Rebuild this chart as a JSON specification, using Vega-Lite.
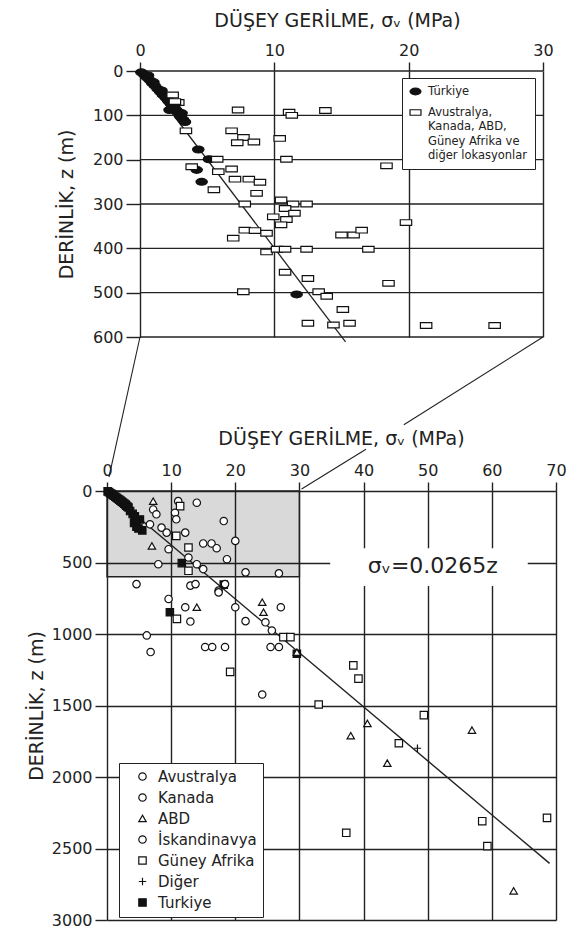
{
  "$schema": "https://vega.github.io/schema/vega-lite/v6.json",
  "padding": {"left": 27, "top": 11, "right": 5, "bottom": 5},
  "background": "white",
  "config": {
    "font": "DejaVu Sans",
    "view": {"stroke": null},
    "axis": {"labelFont": "DejaVu Sans", "labelFontSize": 16, "labelColor": "#222", "titleFont": "DejaVu Sans", "titleFontSize": 19, "titleFontWeight": "normal", "titleColor": "#222", "tickColor": "#222", "tickWidth": 1.4, "gridColor": "#222", "gridWidth": 1.4, "gridOpacity": 1, "domainColor": "#222", "labelFlush": false, "labelOverlap": false, "format": "d"},
    "style": {"guide-label": {"lineHeight": 14.5}}
  },
  "datasets": {
    "one": [{}],
    "top_h": [{"z": 0}, {"z": 100}, {"z": 200}, {"z": 300}, {"z": 400}, {"z": 500}, {"z": 600}],
    "top_fit": [{"s": 0, "z": 0}, {"s": 15.3, "z": 611}],
    "bot_fit": [{"s": 0, "z": 0}, {"s": 69, "z": 2604}],
    "conn": [{"s": 0, "z": 600, "s2": -2.31, "z2": 916}, {"s": 30, "z": 600, "s2": 19.64, "z2": 798}, {"s": 16.82, "z": 853, "s2": 12.03, "z2": 943}],
    "top": [
      {"s": 0.1, "z": 3, "g": "Türkiye"}, {"s": 0.3, "z": 8, "g": "Türkiye"}, {"s": 0.5, "z": 14, "g": "Türkiye"}, {"s": 0.6, "z": 10, "g": "Türkiye"}, {"s": 0.7, "z": 20, "g": "Türkiye"}, {"s": 0.9, "z": 27, "g": "Türkiye"}, {"s": 1.0, "z": 25, "g": "Türkiye"}, {"s": 1.1, "z": 33, "g": "Türkiye"}, {"s": 1.3, "z": 40, "g": "Türkiye"}, {"s": 1.5, "z": 47, "g": "Türkiye"}, {"s": 1.6, "z": 44, "g": "Türkiye"}, {"s": 1.7, "z": 54, "g": "Türkiye"}, {"s": 1.9, "z": 60, "g": "Türkiye"}, {"s": 2.0, "z": 58, "g": "Türkiye"}, {"s": 2.1, "z": 67, "g": "Türkiye"}, {"s": 2.3, "z": 74, "g": "Türkiye"}, {"s": 2.2, "z": 88, "g": "Türkiye"}, {"s": 2.5, "z": 81, "g": "Türkiye"}, {"s": 2.6, "z": 76, "g": "Türkiye"}, {"s": 2.7, "z": 88, "g": "Türkiye"}, {"s": 2.9, "z": 95, "g": "Türkiye"}, {"s": 3.1, "z": 95, "g": "Türkiye"}, {"s": 3.0, "z": 102, "g": "Türkiye"}, {"s": 3.2, "z": 109, "g": "Türkiye"}, {"s": 3.35, "z": 115, "g": "Türkiye"}, {"s": 4.34, "z": 177, "g": "Türkiye"}, {"s": 5.13, "z": 199, "g": "Türkiye"}, {"s": 4.22, "z": 223, "g": "Türkiye"}, {"s": 4.59, "z": 250, "g": "Türkiye"}, {"s": 11.66, "z": 504, "g": "Türkiye"},
      {"s": 2.43, "z": 54, "g": "Diğer"}, {"s": 2.85, "z": 71, "g": "Diğer"}, {"s": 7.3, "z": 88, "g": "Diğer"}, {"s": 11.1, "z": 93, "g": "Diğer"}, {"s": 11.3, "z": 100, "g": "Diğer"}, {"s": 13.8, "z": 89, "g": "Diğer"}, {"s": 3.42, "z": 135, "g": "Diğer"}, {"s": 6.82, "z": 135, "g": "Diğer"}, {"s": 7.7, "z": 150, "g": "Diğer"}, {"s": 7.24, "z": 162, "g": "Diğer"}, {"s": 8.48, "z": 160, "g": "Diğer"}, {"s": 10.4, "z": 152, "g": "Diğer"}, {"s": 10.9, "z": 199, "g": "Diğer"}, {"s": 5.75, "z": 199, "g": "Diğer"}, {"s": 3.85, "z": 216, "g": "Diğer"}, {"s": 6.82, "z": 221, "g": "Diğer"}, {"s": 5.83, "z": 227, "g": "Diğer"}, {"s": 7.07, "z": 244, "g": "Diğer"}, {"s": 8.1, "z": 244, "g": "Diğer"}, {"s": 8.93, "z": 251, "g": "Diğer"}, {"s": 5.5, "z": 268, "g": "Diğer"}, {"s": 8.68, "z": 276, "g": "Diğer"}, {"s": 18.35, "z": 214, "g": "Diğer"}, {"s": 7.8, "z": 300, "g": "Diğer"}, {"s": 10.5, "z": 291, "g": "Diğer"}, {"s": 11.4, "z": 300, "g": "Diğer"}, {"s": 12.4, "z": 300, "g": "Diğer"}, {"s": 10.8, "z": 310, "g": "Diğer"}, {"s": 11.5, "z": 321, "g": "Diğer"}, {"s": 9.92, "z": 329, "g": "Diğer"}, {"s": 10.9, "z": 335, "g": "Diğer"}, {"s": 10.5, "z": 347, "g": "Diğer"}, {"s": 6.94, "z": 377, "g": "Diğer"}, {"s": 7.8, "z": 359, "g": "Diğer"}, {"s": 8.56, "z": 360, "g": "Diğer"}, {"s": 9.42, "z": 366, "g": "Diğer"}, {"s": 15.0, "z": 370, "g": "Diğer"}, {"s": 15.9, "z": 370, "g": "Diğer"}, {"s": 16.5, "z": 359, "g": "Diğer"}, {"s": 19.8, "z": 342, "g": "Diğer"}, {"s": 9.42, "z": 408, "g": "Diğer"}, {"s": 10.2, "z": 402, "g": "Diğer"}, {"s": 10.8, "z": 402, "g": "Diğer"}, {"s": 12.4, "z": 402, "g": "Diğer"}, {"s": 17.0, "z": 402, "g": "Diğer"}, {"s": 10.8, "z": 454, "g": "Diğer"}, {"s": 12.5, "z": 468, "g": "Diğer"}, {"s": 18.5, "z": 479, "g": "Diğer"}, {"s": 7.69, "z": 498, "g": "Diğer"}, {"s": 13.3, "z": 498, "g": "Diğer"}, {"s": 13.9, "z": 508, "g": "Diğer"}, {"s": 15.1, "z": 538, "g": "Diğer"}, {"s": 12.5, "z": 569, "g": "Diğer"}, {"s": 14.4, "z": 573, "g": "Diğer"}, {"s": 15.6, "z": 569, "g": "Diğer"}, {"s": 21.3, "z": 574, "g": "Diğer"}, {"s": 26.4, "z": 574, "g": "Diğer"}, {"s": 2.6, "z": 69, "g": "Diğer"}
    ],
    "bottom": [
      {"s": 0.1, "z": 3, "c": "Turkiye"}, {"s": 0.3, "z": 8, "c": "Turkiye"}, {"s": 0.5, "z": 14, "c": "Turkiye"}, {"s": 0.7, "z": 20, "c": "Turkiye"}, {"s": 0.9, "z": 27, "c": "Turkiye"}, {"s": 1.1, "z": 33, "c": "Turkiye"}, {"s": 1.3, "z": 40, "c": "Turkiye"}, {"s": 1.5, "z": 47, "c": "Turkiye"}, {"s": 1.7, "z": 54, "c": "Turkiye"}, {"s": 1.9, "z": 60, "c": "Turkiye"}, {"s": 2.1, "z": 67, "c": "Turkiye"}, {"s": 2.3, "z": 74, "c": "Turkiye"}, {"s": 2.5, "z": 81, "c": "Turkiye"}, {"s": 2.7, "z": 88, "c": "Turkiye"}, {"s": 2.9, "z": 95, "c": "Turkiye"}, {"s": 3.0, "z": 102, "c": "Turkiye"}, {"s": 3.2, "z": 109, "c": "Turkiye"}, {"s": 3.35, "z": 115, "c": "Turkiye"}, {"s": 3.6, "z": 140, "c": "Turkiye"}, {"s": 4.0, "z": 160, "c": "Turkiye"}, {"s": 4.34, "z": 177, "c": "Turkiye"}, {"s": 5.13, "z": 199, "c": "Turkiye"}, {"s": 4.22, "z": 223, "c": "Turkiye"}, {"s": 4.59, "z": 250, "c": "Turkiye"}, {"s": 4.9, "z": 262, "c": "Turkiye"}, {"s": 5.5, "z": 275, "c": "Turkiye"}, {"s": 11.66, "z": 504, "c": "Turkiye"}, {"s": 18.2, "z": 655, "c": "Turkiye"}, {"s": 9.8, "z": 848, "c": "Turkiye"}, {"s": 29.6, "z": 1138, "c": "Turkiye"},
      {"s": 7.2, "z": 71, "c": "ABD"}, {"s": 11.1, "z": 71, "c": "Avustralya"}, {"s": 11.4, "z": 106, "c": "Güney Afrika"}, {"s": 14.0, "z": 82, "c": "Kanada"}, {"s": 7.2, "z": 129, "c": "İskandinavya"}, {"s": 7.7, "z": 163, "c": "Avustralya"}, {"s": 10.6, "z": 152, "c": "Kanada"}, {"s": 10.8, "z": 198, "c": "Avustralya"}, {"s": 18.2, "z": 210, "c": "Kanada"}, {"s": 6.7, "z": 233, "c": "İskandinavya"}, {"s": 8.5, "z": 256, "c": "Avustralya"}, {"s": 9.3, "z": 291, "c": "Kanada"}, {"s": 12.2, "z": 291, "c": "İskandinavya"}, {"s": 10.8, "z": 314, "c": "Güney Afrika"}, {"s": 20.0, "z": 349, "c": "Avustralya"}, {"s": 15.0, "z": 367, "c": "Kanada"}, {"s": 16.3, "z": 367, "c": "Avustralya"}, {"s": 17.1, "z": 400, "c": "İskandinavya"}, {"s": 7.0, "z": 384, "c": "ABD"}, {"s": 9.6, "z": 407, "c": "Avustralya"}, {"s": 12.7, "z": 395, "c": "Güney Afrika"}, {"s": 18.7, "z": 477, "c": "Kanada"}, {"s": 8.0, "z": 512, "c": "Avustralya"}, {"s": 14.0, "z": 512, "c": "İskandinavya"}, {"s": 12.7, "z": 465, "c": "Kanada"}, {"s": 15.0, "z": 546, "c": "Avustralya"}, {"s": 12.7, "z": 558, "c": "Güney Afrika"}, {"s": 21.6, "z": 569, "c": "Kanada"}, {"s": 26.8, "z": 576, "c": "Avustralya"}, {"s": 4.6, "z": 651, "c": "İskandinavya"}, {"s": 13.0, "z": 662, "c": "Avustralya"}, {"s": 13.8, "z": 651, "c": "Kanada"}, {"s": 17.4, "z": 697, "c": "Avustralya"}, {"s": 18.4, "z": 651, "c": "İskandinavya"}, {"s": 17.4, "z": 709, "c": "Kanada"}, {"s": 9.6, "z": 755, "c": "Avustralya"}, {"s": 12.2, "z": 813, "c": "İskandinavya"}, {"s": 14.0, "z": 813, "c": "ABD"}, {"s": 20.0, "z": 813, "c": "Avustralya"}, {"s": 24.2, "z": 778, "c": "ABD"}, {"s": 27.1, "z": 813, "c": "Kanada"}, {"s": 10.9, "z": 894, "c": "Güney Afrika"}, {"s": 13.0, "z": 913, "c": "İskandinavya"}, {"s": 21.6, "z": 910, "c": "Avustralya"}, {"s": 24.4, "z": 848, "c": "ABD"}, {"s": 24.7, "z": 918, "c": "Kanada"}, {"s": 25.7, "z": 976, "c": "İskandinavya"}, {"s": 27.5, "z": 1022, "c": "Güney Afrika"}, {"s": 28.6, "z": 1022, "c": "Güney Afrika"}, {"s": 6.2, "z": 1010, "c": "Avustralya"}, {"s": 6.8, "z": 1126, "c": "Kanada"}, {"s": 15.3, "z": 1091, "c": "Avustralya"}, {"s": 16.4, "z": 1091, "c": "Kanada"}, {"s": 18.4, "z": 1091, "c": "Avustralya"}, {"s": 25.5, "z": 1091, "c": "İskandinavya"}, {"s": 26.8, "z": 1091, "c": "Avustralya"}, {"s": 29.6, "z": 1127, "c": "ABD"}, {"s": 19.2, "z": 1265, "c": "Güney Afrika"}, {"s": 24.2, "z": 1423, "c": "Avustralya"}, {"s": 33.0, "z": 1493, "c": "Güney Afrika"}, {"s": 38.4, "z": 1219, "c": "Güney Afrika"}, {"s": 39.2, "z": 1312, "c": "Güney Afrika"}, {"s": 49.4, "z": 1567, "c": "Güney Afrika"}, {"s": 40.6, "z": 1625, "c": "ABD"}, {"s": 38.0, "z": 1711, "c": "ABD"}, {"s": 45.5, "z": 1764, "c": "Güney Afrika"}, {"s": 48.4, "z": 1799, "c": "Diğer"}, {"s": 43.7, "z": 1903, "c": "ABD"}, {"s": 56.9, "z": 1672, "c": "ABD"}, {"s": 58.5, "z": 2309, "c": "Güney Afrika"}, {"s": 68.6, "z": 2286, "c": "Güney Afrika"}, {"s": 37.3, "z": 2390, "c": "Güney Afrika"}, {"s": 59.3, "z": 2483, "c": "Güney Afrika"}, {"s": 63.4, "z": 2796, "c": "ABD"}
    ]
  },
  "vconcat": [
    {
      "width": 436,
      "height": 266,
      "layer": [
        {
          "data": {"name": "top_h"},
          "mark": {"type": "rule", "color": "#222", "strokeWidth": 1.4},
          "encoding": {
            "x": {"datum": 0, "type": "quantitative"},
            "x2": {"datum": 30},
            "y": {"field": "z", "type": "quantitative"}
          }
        },
        {
          "data": {"name": "top_fit"},
          "mark": {"type": "line", "color": "#222", "strokeWidth": 1.3},
          "encoding": {
            "x": {"field": "s", "type": "quantitative"},
            "y": {"field": "z", "type": "quantitative"}
          }
        },
        {
          "data": {"name": "top"},
          "mark": {"type": "point", "filled": true, "stroke": "#111", "strokeWidth": 1.2, "size": 130, "opacity": 1},
          "encoding": {
            "x": {"field": "s", "type": "quantitative", "scale": {"domain": [-2.456, 30], "nice": false, "zero": false},
              "axis": {"orient": "top", "values": [0, 10, 20, 30], "grid": true, "domain": false, "tickSize": 9, "labelPadding": 4, "title": "DÜŞEY GERİLME, σᵥ (MPa)", "titlePadding": 12, "titleX": 230}},
            "y": {"field": "z", "type": "quantitative", "scale": {"domain": [0, 600], "reverse": true, "nice": false},
              "axis": {"values": [0, 100, 200, 300, 400, 500, 600], "grid": false, "domain": false, "offset": -33, "tickSize": 14, "labelPadding": 3, "title": "DERİNLİK, z (m)", "titlePadding": 16}},
            "shape": {"field": "g", "type": "nominal",
              "scale": {"domain": ["Türkiye", "Diğer"], "range": ["M-1,0A1,0.6,0,1,0,1,0A1,0.6,0,1,0,-1,0Z", "M-1,-0.5H1V0.5H-1Z"]},
              "legend": {"orient": "none", "legendX": 295, "legendY": 7, "title": null, "strokeColor": "#222", "fillColor": "white", "padding": 7, "labelFontSize": 11.5, "labelColor": "#222", "symbolSize": 120, "symbolStrokeWidth": 1.2, "rowPadding": 8, "labelOffset": 6, "labelLimit": 200,
                "labelExpr": "datum.label == 'Diğer' ? ['Avustralya,', 'Kanada, ABD,', 'Güney Afrika ve', 'diğer lokasyonlar'] : datum.label",
                "encode": {"symbols": {"update": {"stroke": {"value": "#111"}, "strokeWidth": {"value": 1.2}}}}}},
            "fill": {"field": "g", "type": "nominal", "scale": {"domain": ["Türkiye", "Diğer"], "range": ["#111", "white"]}}
          }
        },
        {
          "data": {"name": "conn"},
          "mark": {"type": "rule", "color": "#222", "strokeWidth": 1.1},
          "encoding": {
            "x": {"field": "s", "type": "quantitative"},
            "y": {"field": "z", "type": "quantitative"},
            "x2": {"field": "s2"},
            "y2": {"field": "z2"}
          }
        }
      ]
    },
    {
      "width": 449,
      "height": 429,
      "layer": [
        {
          "data": {"name": "one"},
          "mark": {"type": "rect", "fill": "black", "fillOpacity": 0.15, "stroke": "#222", "strokeWidth": 1.4, "strokeOpacity": 1},
          "encoding": {
            "x": {"datum": 0, "type": "quantitative"},
            "x2": {"datum": 30},
            "y": {"datum": 0, "type": "quantitative"},
            "y2": {"datum": 600}
          }
        },
        {
          "data": {"name": "one"},
          "mark": {"type": "rect", "fill": "white", "fillOpacity": 1},
          "encoding": {
            "x": {"datum": 34.8, "type": "quantitative"},
            "x2": {"datum": 65.6},
            "y": {"datum": 400, "type": "quantitative"},
            "y2": {"datum": 665}
          }
        },
        {
          "data": {"name": "bot_fit"},
          "mark": {"type": "line", "color": "#222", "strokeWidth": 1.4},
          "encoding": {
            "x": {"field": "s", "type": "quantitative"},
            "y": {"field": "z", "type": "quantitative"}
          }
        },
        {
          "data": {"name": "bottom"},
          "mark": {"type": "point", "filled": true, "stroke": "#111", "strokeWidth": 1.2, "size": 55, "opacity": 1},
          "encoding": {
            "x": {"field": "s", "type": "quantitative", "scale": {"domain": [0, 70], "nice": false},
              "axis": {"orient": "top", "values": [0, 10, 20, 30, 40, 50, 60, 70], "grid": true, "domain": false, "tickSize": 9, "labelPadding": 4, "title": "DÜŞEY GERİLME, σᵥ (MPa)", "titlePadding": 14, "titleX": 234}},
            "y": {"field": "z", "type": "quantitative", "scale": {"domain": [0, 3000], "reverse": true, "nice": false},
              "axis": {"values": [0, 500, 1000, 1500, 2000, 2500, 3000], "grid": true, "domain": false, "tickSize": 12, "labelPadding": 3, "title": "DERİNLİK, z (m)", "titlePadding": 5}},
            "shape": {"field": "c", "type": "nominal",
              "scale": {"domain": ["Avustralya", "Kanada", "ABD", "İskandinavya", "Güney Afrika", "Diğer", "Turkiye"], "range": ["circle", "circle", "triangle-up", "circle", "square", "M-1,0H1M0,-1V1", "square"]},
              "legend": {"orient": "none", "legendX": 12, "legendY": 272, "title": null, "strokeColor": "#222", "fillColor": "white", "padding": 6, "symbolOffset": 10, "labelFontSize": 15, "labelColor": "#222", "symbolSize": 55, "symbolStrokeWidth": 1.2, "rowPadding": 5, "labelOffset": 8,
                "encode": {"symbols": {"update": {"stroke": {"value": "#111"}, "strokeWidth": {"value": 1.2}}}}}},
            "fill": {"field": "c", "type": "nominal", "scale": {"domain": ["Avustralya", "Kanada", "ABD", "İskandinavya", "Güney Afrika", "Diğer", "Turkiye"], "range": ["white", "white", "white", "white", "white", "white", "#111"]}}
          }
        },
        {
          "data": {"name": "one"},
          "mark": {"type": "text", "text": "σᵥ=0.0265z", "fontSize": 22, "color": "#222", "font": "DejaVu Sans"},
          "encoding": {
            "x": {"datum": 50.8, "type": "quantitative"},
            "y": {"datum": 527, "type": "quantitative"}
          }
        }
      ]
    }
  ],
  "spacing": 154,
  "bounds": "flush",
  "resolve": {"scale": {"shape": "independent", "fill": "independent"}, "legend": {"shape": "independent", "fill": "independent"}}
}
